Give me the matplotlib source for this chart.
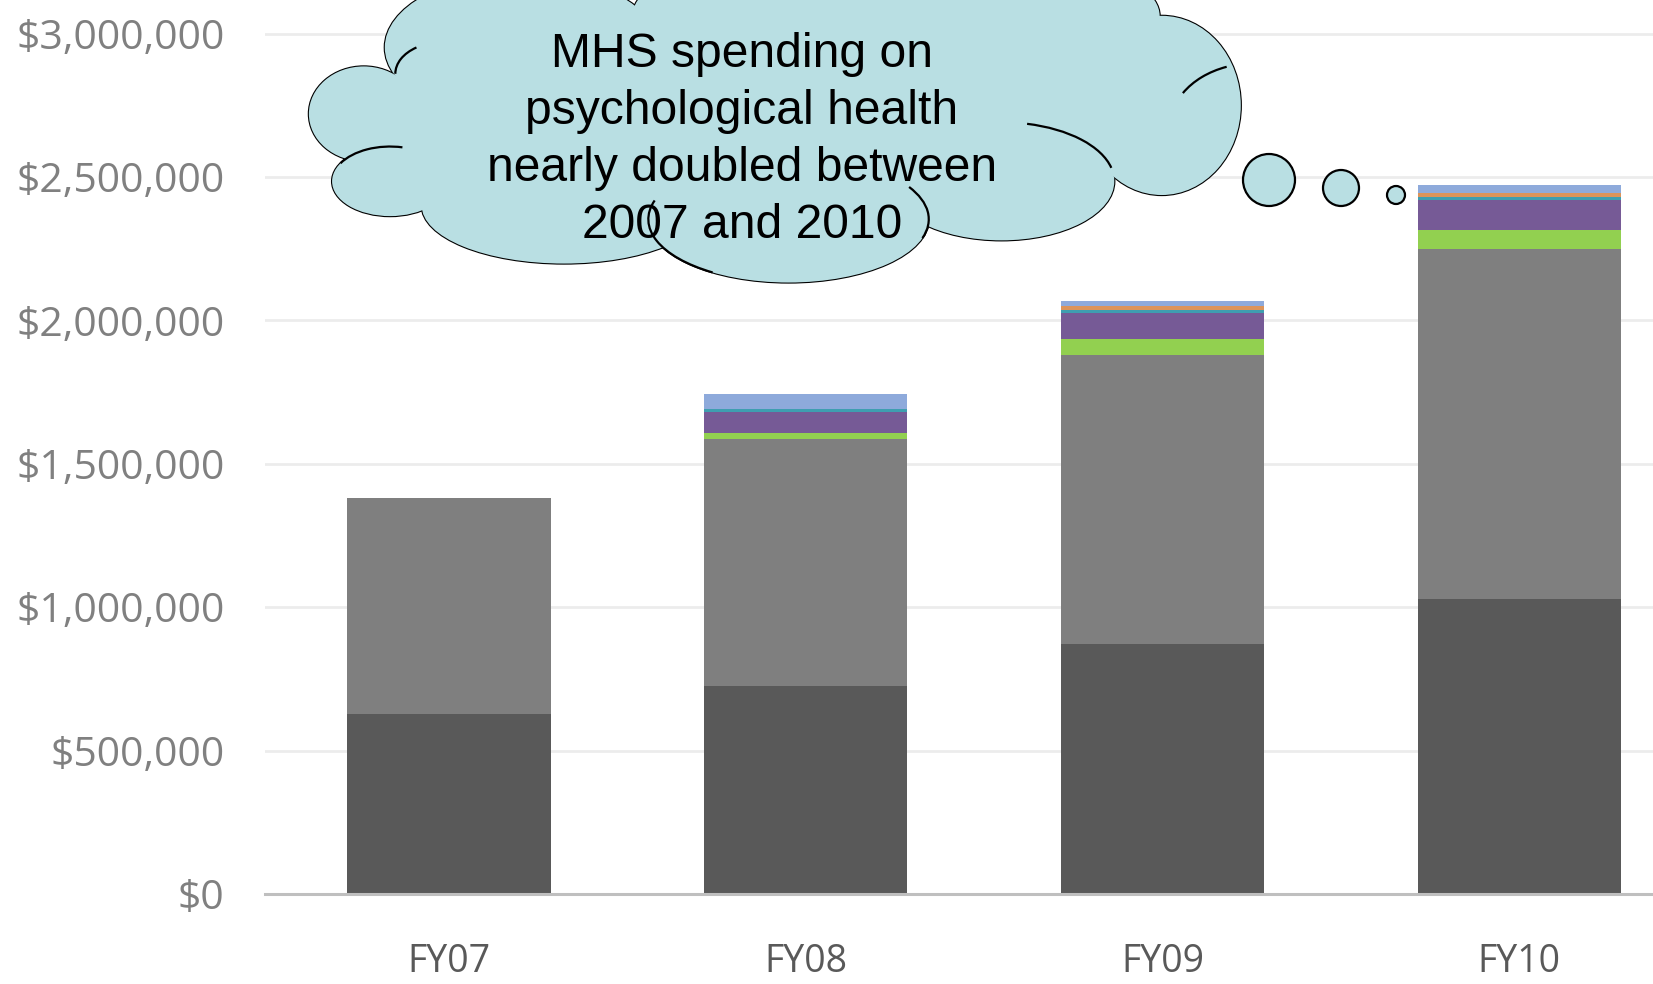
import numpy as np
import matplotlib
matplotlib.use("Agg")
import matplotlib.pyplot as plt
from matplotlib.patches import Ellipse, Arc, Circle
from matplotlib.ticker import FuncFormatter

years = ["FY07", "FY08", "FY09", "FY10"]
# stacked segments, bottom to top (dollars)
direct_care = [629000, 725000, 872000, 1029000]
purchased_care = [750000, 860000, 1008000, 1220000]
green_seg = [0, 23000, 56000, 66000]
purple_seg = [0, 73000, 91000, 105000]
teal_seg = [0, 10000, 10000, 11000]
orange_seg = [0, 0, 14000, 12000]
blue_seg = [0, 52000, 18000, 29000]

segments = [direct_care, purchased_care, green_seg, purple_seg, teal_seg, orange_seg, blue_seg]
seg_colors = ["#595959", "#7f7f7f", "#92d050", "#765a96", "#3f9eb0", "#dc945a", "#8eaadb"]

yticks = [0, 500000, 1000000, 1500000, 2000000, 2500000, 3000000]
note = "MHS spending on\npsychological health\nnearly doubled between\n2007 and 2010"

W, H = 1653, 984
fig = plt.figure(figsize=(W / 100, H / 100), dpi=100)
ax = fig.add_axes([265 / W, (H - 894) / H, 1 - 265 / W, 894 / H])

x = np.arange(len(years))
bottom = np.zeros(len(years))
for vals, c in zip(segments, seg_colors):
    ax.bar(x, vals, width=0.57, bottom=bottom, color=c, zorder=2, linewidth=0)
    bottom += np.array(vals)

ax.set_xlim(-0.516, 3.375)
ax.set_ylim(0, 3117000)
ax.set_yticks(yticks)
ax.yaxis.set_major_formatter(FuncFormatter(lambda v, p: "${:,.0f}".format(v)))
ax.set_xticks(x)
ax.set_xticklabels(years)
ax.grid(axis="y", color="#ececec", linewidth=2, zorder=0)
for s in ["top", "right", "left"]:
    ax.spines[s].set_visible(False)
ax.spines["bottom"].set_color("#bfbfbf")
ax.spines["bottom"].set_linewidth(2.2)
ax.spines["bottom"].set_zorder(3)
ax.tick_params(axis="y", length=0, pad=29, labelsize=29.5, labelcolor="#808080")
ax.tick_params(axis="x", length=0, pad=35.5, labelsize=27, labelcolor="#595959")
for lab in ax.get_yticklabels() + ax.get_xticklabels():
    lab.set_family("Open Sans")

# thought-cloud callout, laid out on a 1568-wide sketch then scaled to pixels
S = W / 1568
ov = fig.add_axes([0, 0, 1, 1], zorder=5)
ov.set_xlim(0, W)
ov.set_ylim(H, 0)
ov.axis("off")
fill = "#b9dfe3"
lobes = [
    (345, 108, 104, 90),    # left
    (370, 172, 110, 66),    # lower left
    (535, 195, 270, 110),   # bottom left
    (748, 208, 266, 120),   # bottom centre
    (950, 172, 214, 112),   # bottom right
    (1102, 100, 150, 170),  # right
    (495, 45, 260, 140),    # top left
    (850, 15, 500, 150),    # top centre
]
lobes = [(a * S, b * S, c * S, d * S) for a, b, c, d in lobes]
for cx, cy, w, h in lobes:
    ov.add_patch(Ellipse((cx, cy), w, h, facecolor=fill, edgecolor="black", linewidth=1.6, zorder=1))
for cx, cy, w, h in lobes:
    ov.add_patch(Ellipse((cx, cy), w, h, facecolor=fill, edgecolor="none", zorder=2))
for cx, cy, w, h in [(710, 125, 700, 200), (980, 80, 200, 120)]:
    ov.add_patch(Ellipse((cx * S, cy * S), w * S, h * S, facecolor=fill, edgecolor="none", zorder=2))

# inner arcs of the cloud
inner = [
    (lobes[1], 200, 290),
    (lobes[3], 145, 188),
    (lobes[3], -15, 8),
    (lobes[4], 294, 353),
    ((1190 * S, 120 * S, 160 * S, 120 * S), 205, 245),
    ((420 * S, 70 * S, 90 * S, 60 * S), 180, 225),
]
for (cx, cy, w, h), a1, a2 in inner:
    ov.add_patch(Arc((cx, cy), w, h, theta1=a1, theta2=a2, color="black", linewidth=1.6, zorder=3))

for cx, cy, r in [(1269, 180, 26), (1341, 188, 18), (1396, 195, 9)]:
    ov.add_patch(Circle((cx, cy), r, facecolor=fill, edgecolor="black", linewidth=1.6, zorder=3))

ov.text(742, 140, note, ha="center", va="center", fontsize=34.6, family="Liberation Sans",
        linespacing=1.35, color="black", zorder=4)

fig.savefig("out.png", dpi=100)
